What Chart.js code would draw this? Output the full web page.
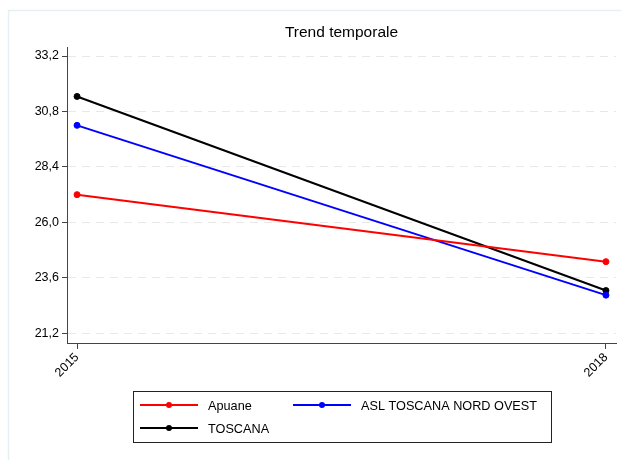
<!DOCTYPE html>
<html>
<head>
<meta charset="utf-8">
<script src="https://cdn.jsdelivr.net/npm/chart.js@4/dist/chart.umd.min.js"></script>
<style>
  html, body { margin: 0; padding: 0; background: #fff; }
  #wrap { width: 621px; height: 460px; position: relative; }
</style>
</head>
<body>
<div id="wrap"><canvas id="trendChart"></canvas></div>
<script>
// data
const years = [2015, 2018];
const apuane = [27.2, 24.3];
const aslNordOvest = [30.2, 22.85];
const toscana = [31.45, 23.05];
const yTicks = [21.2, 23.6, 26.0, 28.4, 30.8, 33.2];
const seriesNames = ["Apuane", "ASL TOSCANA NORD OVEST", "TOSCANA"];
const seriesColors = ["#ff0000", "#0000ff", "#000000"];

const font = "'Liberation Sans', Arial, sans-serif";

function toPoints(vals) {
    return years.map((y, i) => ({ x: y, y: vals[i] }));
}

const allSeries = [apuane, aslNordOvest, toscana];
const datasets = allSeries.map((vals, i) => ({
    label: seriesNames[i],
    data: toPoints(vals),
    borderColor: seriesColors[i],
    backgroundColor: seriesColors[i],
    borderWidth: 2,
    pointRadius: 3,
    pointBorderWidth: 1,
    pointHoverRadius: 3,
    tension: 0
}));

// faint outer frame, title and boxed legend
const decorations = {
    id: 'decorations',
    beforeDraw(chart) {
        const c = chart.ctx;
        c.save();
        c.strokeStyle = '#e6eff1';
        c.lineWidth = 1.5;
        c.beginPath();
        c.moveTo(8.5, 460);
        c.lineTo(8.5, 10.5);
        c.lineTo(621, 10.5);
        c.stroke();
        c.restore();
    },
    afterDraw(chart) {
        const c = chart.ctx;
        const area = chart.chartArea;
        c.save();
        c.fillStyle = '#000';
        c.font = '15.5px ' + font;
        c.textAlign = 'center';
        c.textBaseline = 'middle';
        c.fillText('Trend temporale', (area.left + area.right) / 2, 33);

        // legend box
        c.strokeStyle = '#222';
        c.lineWidth = 1;
        c.strokeRect(133.5, 391.5, 418, 51);
        const slots = [[140, 405], [293, 405], [140, 428]];
        c.font = '12.7px ' + font;
        c.textAlign = 'left';
        chart.data.datasets.forEach((ds, i) => {
            const [x, y] = slots[i];
            c.strokeStyle = ds.borderColor;
            c.fillStyle = ds.borderColor;
            c.lineWidth = 2;
            c.beginPath();
            c.moveTo(x, y);
            c.lineTo(x + 58, y);
            c.stroke();
            c.beginPath();
            c.arc(x + 29, y, 3, 0, Math.PI * 2);
            c.fill();
            c.fillStyle = '#000';
            c.fillText(ds.label, x + 68, y + 1);
        });
        c.restore();
    }
};

const ctx = document.getElementById('trendChart');
new Chart(ctx, {
    type: 'line',
    data: { datasets: datasets },
    options: {
        responsive: true,
        maintainAspectRatio: false,
        animation: false,
        layout: { padding: { top: 47, right: 5, left: 0, bottom: 77 } },
        plugins: {
            legend: { display: false },
            title: { display: false },
            tooltip: { enabled: false }
        },
        scales: {
            x: {
                type: 'linear',
                min: 2014.943,
                max: 2018.057,
                afterBuildTicks(axis) {
                    axis.ticks = years.map(v => ({ value: v }));
                },
                afterFit(axis) { axis.height = 40; },
                ticks: {
                    color: '#000',
                    font: { family: font, size: 12.5 },
                    minRotation: 45,
                    maxRotation: 45,
                    padding: 1,
                    callback: v => String(v)
                },
                grid: {
                    drawOnChartArea: false,
                    drawTicks: true,
                    tickLength: 6,
                    tickColor: '#444'
                },
                border: { color: '#444', width: 1 }
            },
            y: {
                type: 'linear',
                min: 20.78,
                max: 33.59,
                afterBuildTicks(axis) {
                    axis.ticks = yTicks.map(v => ({ value: v }));
                },
                afterFit(axis) { axis.width = 67; },
                ticks: {
                    color: '#000',
                    font: { family: font, size: 12.5 },
                    padding: 3,
                    callback: v => v.toFixed(1).replace('.', ',')
                },
                grid: {
                    color: '#e8e8e8',
                    lineWidth: 1,
                    drawTicks: true,
                    tickLength: 5,
                    tickColor: '#444',
                    tickBorderDash: []
                },
                border: { color: '#444', width: 1, dash: [8, 6] }
            }
        }
    },
    plugins: [decorations]
});
</script>
</body>
</html>
